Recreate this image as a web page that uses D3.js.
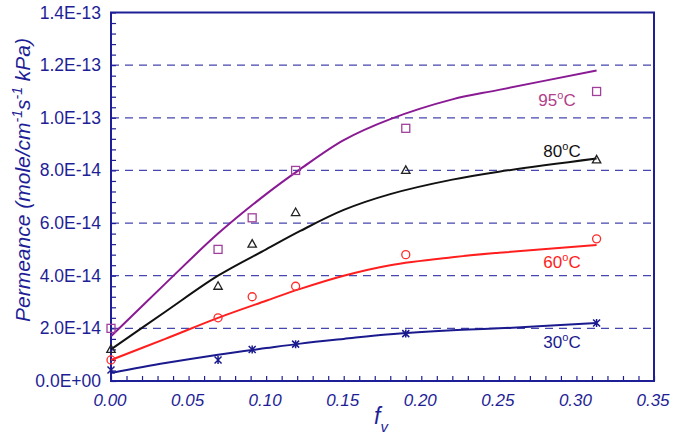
<!DOCTYPE html>
<html><head><meta charset="utf-8">
<script src="https://cdn.jsdelivr.net/npm/d3@7"></script>
<style>body{margin:0;background:#fff}svg{display:block}</style>
</head><body>
<svg id="c" width="676" height="442"></svg>
<script>
const xTicks = [0,0.05,0.10,0.15,0.20,0.25,0.30,0.35];
const yTicks = [0,2e-14,4e-14,6e-14,8e-14,1.0e-13,1.2e-13,1.4e-13];
const yTickLabels = ["0.0E+00","2.0E-14","4.0E-14","6.0E-14","8.0E-14","1.0E-13","1.2E-13","1.4E-13"];
const fv = [0, 0.069, 0.091, 0.119, 0.19, 0.313];
const p30 = [0.42e-14, 0.8e-14, 1.2e-14, 1.4e-14, 1.8e-14, 2.2e-14];
const p60 = [0.8e-14, 2.4e-14, 3.2e-14, 3.6e-14, 4.8e-14, 5.4e-14];
const p80 = [1.2e-14, 3.6e-14, 5.2e-14, 6.4e-14, 8.0e-14, 8.4e-14];
const p95 = [2.0e-14, 5.0e-14, 6.2e-14, 8.0e-14, 9.6e-14, 1.10e-13];
const fitX = [0, 0.035, 0.069, 0.1, 0.122, 0.15, 0.18, 0.22, 0.25, 0.313];
const fit30 = [0.3e-14, 0.68e-14, 1.0e-14, 1.25e-14, 1.42e-14, 1.6e-14, 1.78e-14, 1.93e-14, 2.0e-14, 2.2e-14];
const fit60 = [0.8e-14, 1.6e-14, 2.4e-14, 3.05e-14, 3.5e-14, 4.0e-14, 4.4e-14, 4.7e-14, 4.87e-14, 5.17e-14];
const fit80 = [1.2e-14, 2.63e-14, 4.0e-14, 5.0e-14, 5.7e-14, 6.5e-14, 7.1e-14, 7.65e-14, 7.95e-14, 8.45e-14];
const fit95 = [1.7e-14, 3.7e-14, 5.6e-14, 7.1e-14, 8.05e-14, 9.15e-14, 9.95e-14, 1.07e-13, 1.106e-13, 1.18e-13];
const seriesNames = ["30","60","80","95"];

const svg = d3.select("#c");
const L=111, R=654, T=12.5, B=381;
const x = d3.scaleLinear().domain([0,0.35]).range([L,R]);
const y = d3.scaleLinear().domain([0,1.4e-13]).range([B,T]);
const axisCol = "#1e1e96";
const font = "Liberation Sans, Arial, sans-serif";

// gridlines
svg.append("g").selectAll("line").data(yTicks.slice(1,-1)).join("line")
  .attr("x1",L).attr("x2",R).attr("y1",d=>y(d)).attr("y2",d=>y(d))
  .attr("stroke","#4646b0").attr("stroke-width",1.3).attr("stroke-dasharray","8,6");

// minor ticks via axes
const yMinor = d3.range(0,1.4e-13+1e-20,0.4e-14);
const xMinor = d3.range(0,0.3501,0.01);
const gy = svg.append("g").attr("transform",`translate(${L},0)`)
  .call(d3.axisRight(y).tickValues(yMinor).tickSize(5).tickFormat(""));
const gx = svg.append("g").attr("transform",`translate(0,${B})`)
  .call(d3.axisTop(x).tickValues(xMinor).tickSize(5).tickFormat(""));
[gy,gx].forEach(g=>{g.select(".domain").remove();g.selectAll("line").attr("stroke",axisCol).attr("stroke-width",1.2);});

// frame
svg.append("rect").attr("x",L).attr("y",T).attr("width",R-L).attr("height",B-T)
  .attr("fill","none").attr("stroke",axisCol).attr("stroke-width",2);

// tick labels
svg.append("g").selectAll("text").data(yTicks).join("text")
  .attr("x",101).attr("y",d=>y(d)+6).attr("text-anchor","end")
  .attr("font-family",font).attr("font-size",17.5).attr("fill",axisCol)
  .text((d,i)=>yTickLabels[i]);
svg.append("g").selectAll("text").data(xTicks).join("text")
  .attr("x",d=>x(d)-1).attr("y",406).attr("text-anchor","middle")
  .attr("font-family",font).attr("font-size",17).attr("font-style","italic").attr("fill",axisCol)
  .text(d=>d.toFixed(2));

// axis titles
const yl = svg.append("text").attr("transform","translate(30,180) rotate(-90)")
  .attr("text-anchor","middle").attr("font-family",font).attr("font-size",21)
  .attr("font-style","italic").attr("fill",axisCol);
yl.append("tspan").text("Permeance (mole/cm");
yl.append("tspan").attr("dy",-8).attr("font-size",14).text("-1");
yl.append("tspan").attr("dy",8).text("s");
yl.append("tspan").attr("dy",-8).attr("font-size",14).text("-1");
yl.append("tspan").attr("dy",8).text(" kPa)");
const xl = svg.append("text").attr("x",381).attr("y",424).attr("text-anchor","middle")
  .attr("font-family",font).attr("font-size",23).attr("font-style","italic").attr("fill",axisCol);
xl.append("tspan").text("f");
xl.append("tspan").attr("dy",8).attr("font-size",15).text("v");

// curves
const fits = {"30":fit30,"60":fit60,"80":fit80,"95":fit95};
const pts = {"30":p30,"60":p60,"80":p80,"95":p95};
const lineCol = {"30":"#1a1a8e","60":"#ff1e1e","80":"#111111","95":"#8a1a94"};
const markCol = {"30":"#1a1a8e","60":"#ff2a2a","80":"#222222","95":"#a0409c"};
const line = d3.line().x(d=>x(d[0])).y(d=>y(d[1])).curve(d3.curveCatmullRom.alpha(0.5));
seriesNames.forEach(s=>{
  svg.append("path").datum(fitX.map((v,i)=>[v,fits[s][i]]))
    .attr("d",line).attr("fill","none").attr("stroke",lineCol[s]).attr("stroke-width",2);
});
// markers
const mk = svg.append("g");
fv.forEach((v,i)=>{
  const cx=x(v);
  let cy=y(p30[i]);
  mk.append("path").attr("d",`M${cx-3.5},${cy-3.5}L${cx+3.5},${cy+3.5}M${cx-3.5},${cy+3.5}L${cx+3.5},${cy-3.5}M${cx},${cy-4}L${cx},${cy+4}`)
    .attr("stroke",markCol["30"]).attr("stroke-width",1.5).attr("fill","none");
  cy=y(p60[i]);
  mk.append("circle").attr("cx",cx).attr("cy",cy).attr("r",4).attr("fill","none").attr("stroke",markCol["60"]).attr("stroke-width",1.3);
  cy=y(p80[i]);
  mk.append("path").attr("d",`M${cx},${cy-4.5}L${cx+4.2},${cy+3}L${cx-4.2},${cy+3}Z`)
    .attr("fill","none").attr("stroke",markCol["80"]).attr("stroke-width",1.3);
  cy=y(p95[i]);
  mk.append("rect").attr("x",cx-4).attr("y",cy-4).attr("width",8).attr("height",8)
    .attr("fill","none").attr("stroke",markCol["95"]).attr("stroke-width",1.3);
});

// labels
const labs = [["95",557,106,"#b0408a"],["80",562,157,"#111111"],["60",562,268,"#ff2020"],["30",562,348,"#1a1a8e"]];
labs.forEach(([t,lx,ly,c])=>{
  const tx = svg.append("text").attr("x",lx).attr("y",ly).attr("text-anchor","middle")
    .attr("font-family",font).attr("font-size",17).attr("fill",c);
  tx.append("tspan").text(t);
  tx.append("tspan").attr("dy",-7).attr("font-size",11).text("o");
  tx.append("tspan").attr("dy",7).text("C");
});
</script>
</body></html>
